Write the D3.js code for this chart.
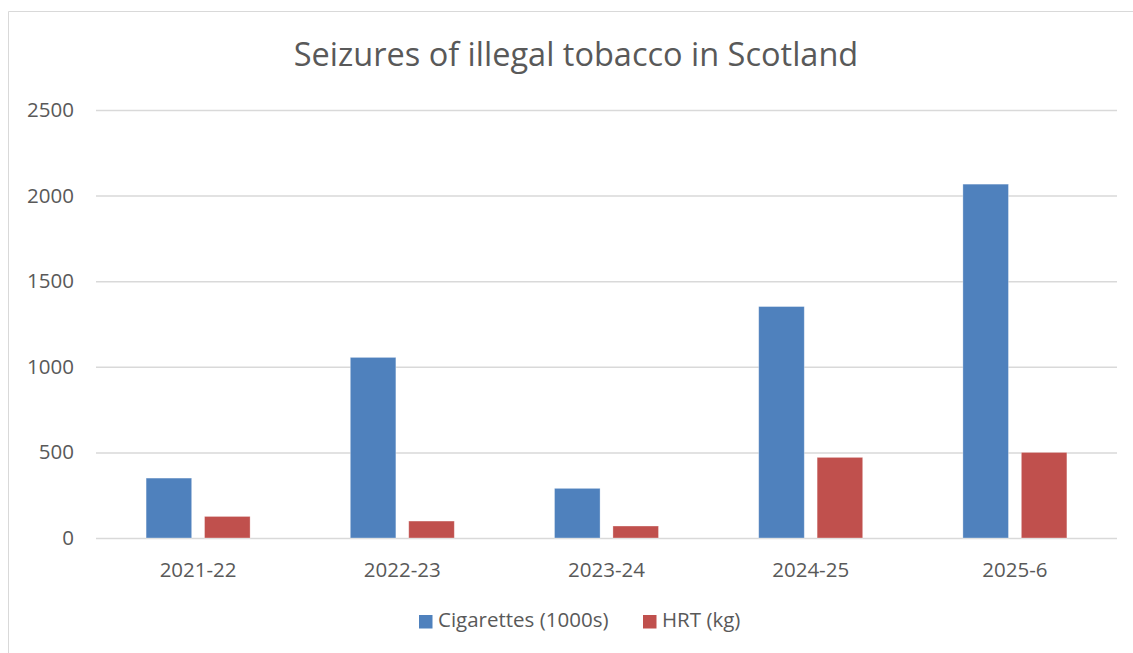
<!DOCTYPE html>
<html>
<head>
<meta charset="utf-8">
<script src="https://cdn.jsdelivr.net/npm/d3@7"></script>
<style>
  html, body { margin: 0; padding: 0; background: #fff; overflow: hidden; }
  svg { display: block; font-family: 'Open Sans', sans-serif; }
</style>
</head>
<body>
<script>
//categories and series
const years = ['2021-22', '2022-23', '2023-24', '2024-25', '2025-6']
const cigarettes = [350, 1055, 290, 1352, 2067]
const hrt = [126, 99, 70, 471, 500]
const seriesNames = ['Cigarettes (1000s)', 'HRT (kg)']
const yTicks = [0, 500, 1000, 1500, 2000, 2500]

const colors = ['#4f81bd', '#c0504d']
const textColor = '#595959'
const fontFamily = "'Open Sans', sans-serif"

const width = 1133
const height = 653

const margin = { top: 110, bottom: 115, left: 96, right: 16 }
const innerWidth = width - margin.left - margin.right
const innerHeight = height - margin.top - margin.bottom

const svg = d3.select('body')
  .append('svg')
    .attr('width', width)
    .attr('height', height)

//chart area border (only left and top edges show in the picture)
svg.append('line')
  .attr('x1', 8.5).attr('y1', 11.5)
  .attr('x2', 8.5).attr('y2', height)
  .attr('stroke', '#d9d9d9')
svg.append('line')
  .attr('x1', 8.5).attr('y1', 11.5)
  .attr('x2', width).attr('y2', 11.5)
  .attr('stroke', '#d9d9d9')

//title
svg.append('text')
  .text('Seizures of illegal tobacco in Scotland')
    .attr('x', 576)
    .attr('y', 66)
    .attr('text-anchor', 'middle')
    .attr('font-family', fontFamily)
    .attr('font-size', 32.5)
    .attr('fill', textColor)

const g = svg.append('g')
  .attr('transform', `translate(${margin.left},${margin.top})`)

const xScale = d3.scaleBand()
  .domain(years)
  .range([0, innerWidth])

const xInner = d3.scaleBand()
  .domain(seriesNames)
  .range([xScale.bandwidth() / 2 - 52, xScale.bandwidth() / 2 + 52])
  .paddingInner(0.22)

const yScale = d3.scaleLinear()
  .domain([0, 2500])
  .range([innerHeight, 0])

//gridlines via the y axis
const yAxis = d3.axisLeft(yScale)
  .tickValues(yTicks)
  .tickFormat(d3.format('d'))
  .tickSize(-innerWidth)
  .tickPadding(22)

g.append('g').call(yAxis)
    .attr('font-family', fontFamily)
    .attr('font-size', 20.5)
  .call(s => s.select('.domain').remove())
  .call(s => s.selectAll('line').attr('stroke', '#d9d9d9').attr('stroke-width', 1.5))
  .call(s => s.selectAll('text').attr('fill', textColor))

const xAxis = d3.axisBottom(xScale)
  .tickSize(0)
  .tickPadding(24)

g.append('g').call(xAxis)
    .attr('transform', `translate(0,${innerHeight})`)
    .attr('font-family', fontFamily)
    .attr('font-size', 20.5)
  .call(s => s.select('.domain').remove())
  .call(s => s.selectAll('text').attr('fill', textColor))

//build rows from arrays
const rows = years.map((y, i) => ({ year: y, values: [cigarettes[i], hrt[i]] }))

const groups = g.selectAll('.cat')
  .data(rows)
  .enter()
  .append('g')
    .attr('class', 'cat')
    .attr('transform', d => `translate(${xScale(d.year)},0)`)

groups.selectAll('rect')
  .data(d => d.values.map((v, i) => ({ name: seriesNames[i], value: v, i })))
  .enter()
  .append('rect')
    .attr('x', d => xInner(d.name))
    .attr('y', d => yScale(d.value))
    .attr('width', xInner.bandwidth())
    .attr('height', d => innerHeight - yScale(d.value))
    .attr('fill', d => colors[d.i])
    .attr('stroke', '#ffffff')
    .attr('stroke-opacity', 0.4)
    .attr('stroke-width', 0.8)

//legend
const legend = svg.append('g')
  .attr('transform', 'translate(419,615)')

const legendX = [0, 224]
seriesNames.forEach((name, i) => {
  legend.append('rect')
    .attr('x', legendX[i])
    .attr('y', 0)
    .attr('width', 13.5)
    .attr('height', 13.5)
    .attr('fill', colors[i])
  legend.append('text')
    .text(name)
      .attr('x', legendX[i] + 19)
      .attr('y', 12)
      .attr('font-family', fontFamily)
      .attr('font-size', 20.5)
      .attr('fill', textColor)
})
</script>
</body>
</html>
